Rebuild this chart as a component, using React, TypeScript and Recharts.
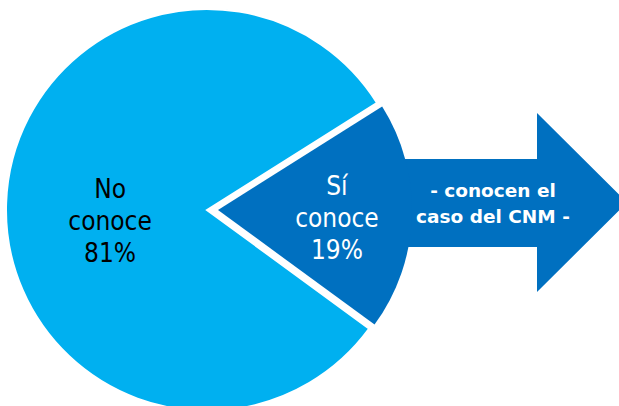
import { PieChart, Pie, Cell, Customized } from 'recharts';

// survey answers (percent)
const categories = ['No conoce', 'Sí conoce'];
const shares = [81, 19];
const labelLines = [
  ['No', 'conoce', '81%'],
  ['Sí', 'conoce', '19%'],
];
const arrowLines = ['- conocen el', 'caso del CNM -'];

const LIGHT = '#00B0F0';
const DARK = '#0070C0';

const W = 619;
const H = 406;

const data = categories.map((name, i) => ({ name, value: shares[i] }));

const RAD = Math.PI / 180;

function makeLabel(which: number, radius: number, shiftY: number, color: string) {
  return (props: any) => {
    if (props.index !== which) return null;
    const { cx, cy, midAngle } = props;
    const x = cx + radius * Math.cos(-midAngle * RAD);
    const y = cy + radius * Math.sin(-midAngle * RAD) + shiftY;
    return (
      <text
        x={x}
        y={y}
        fill={color}
        textAnchor="middle"
        fontFamily="'DejaVu Sans Condensed', 'DejaVu Sans', sans-serif"
        style={{ fontStretch: 'condensed' }}
        fontSize={26}
      >
        {labelLines[which].map((t, k) => (
          <tspan key={k} x={x} dy={k === 0 ? -32 : 32}>
            {t}
          </tspan>
        ))}
      </text>
    );
  };
}

// the big arrow going out of the exploded slice
function Arrow() {
  const x0 = 398;
  const headX = 537;
  const tipX = 627;
  const bodyTop = 159;
  const bodyBottom = 247;
  const headTop = 113;
  const headBottom = 292;
  const midY = (headTop + headBottom) / 2;
  const pts = [
    [x0, bodyTop],
    [headX, bodyTop],
    [headX, headTop],
    [tipX, midY],
    [headX, headBottom],
    [headX, bodyBottom],
    [x0, bodyBottom],
  ]
    .map((p) => p.join(','))
    .join(' ');
  return (
    <g>
      <polygon points={pts} fill={DARK} />
      <text
        x={493}
        y={197}
        fill="#fff"
        textAnchor="middle"
        fontFamily="'DejaVu Sans', sans-serif"
        fontWeight="bold"
        fontSize={18.5}
      >
        <tspan x={493}>{arrowLines[0]}</tspan>
        <tspan x={493} dy={26}>
          {arrowLines[1]}
        </tspan>
      </text>
    </g>
  );
}

export default function App() {
  return (
    <div style={{ position: 'absolute', left: 0, top: 0, width: W, height: H, background: '#fff' }}>
      <PieChart width={W} height={H} margin={{ top: 0, right: 0, bottom: 0, left: 0 }}>
        <Customized component={Arrow} />
        <Pie
          data={data}
          dataKey="value"
          nameKey="name"
          cx={207}
          cy={210}
          outerRadius={201}
          startAngle={32.2}
          endAngle={392.2}
          isAnimationActive={false}
          labelLine={false}
          label={makeLabel(0, 97, 23, '#000')}
        >
          <Cell fill={LIGHT} stroke="#fff" strokeWidth={2} />
          <Cell fill="transparent" stroke="none" />
        </Pie>
        <Pie
          data={data}
          dataKey="value"
          nameKey="name"
          cx={218}
          cy={210}
          outerRadius={194}
          startAngle={32.2}
          endAngle={392.2}
          isAnimationActive={false}
          labelLine={false}
          label={makeLabel(1, 119, 13, '#fff')}
        >
          <Cell fill="transparent" stroke="none" />
          <Cell fill={DARK} stroke="none" />
        </Pie>
      </PieChart>
    </div>
  );
}
